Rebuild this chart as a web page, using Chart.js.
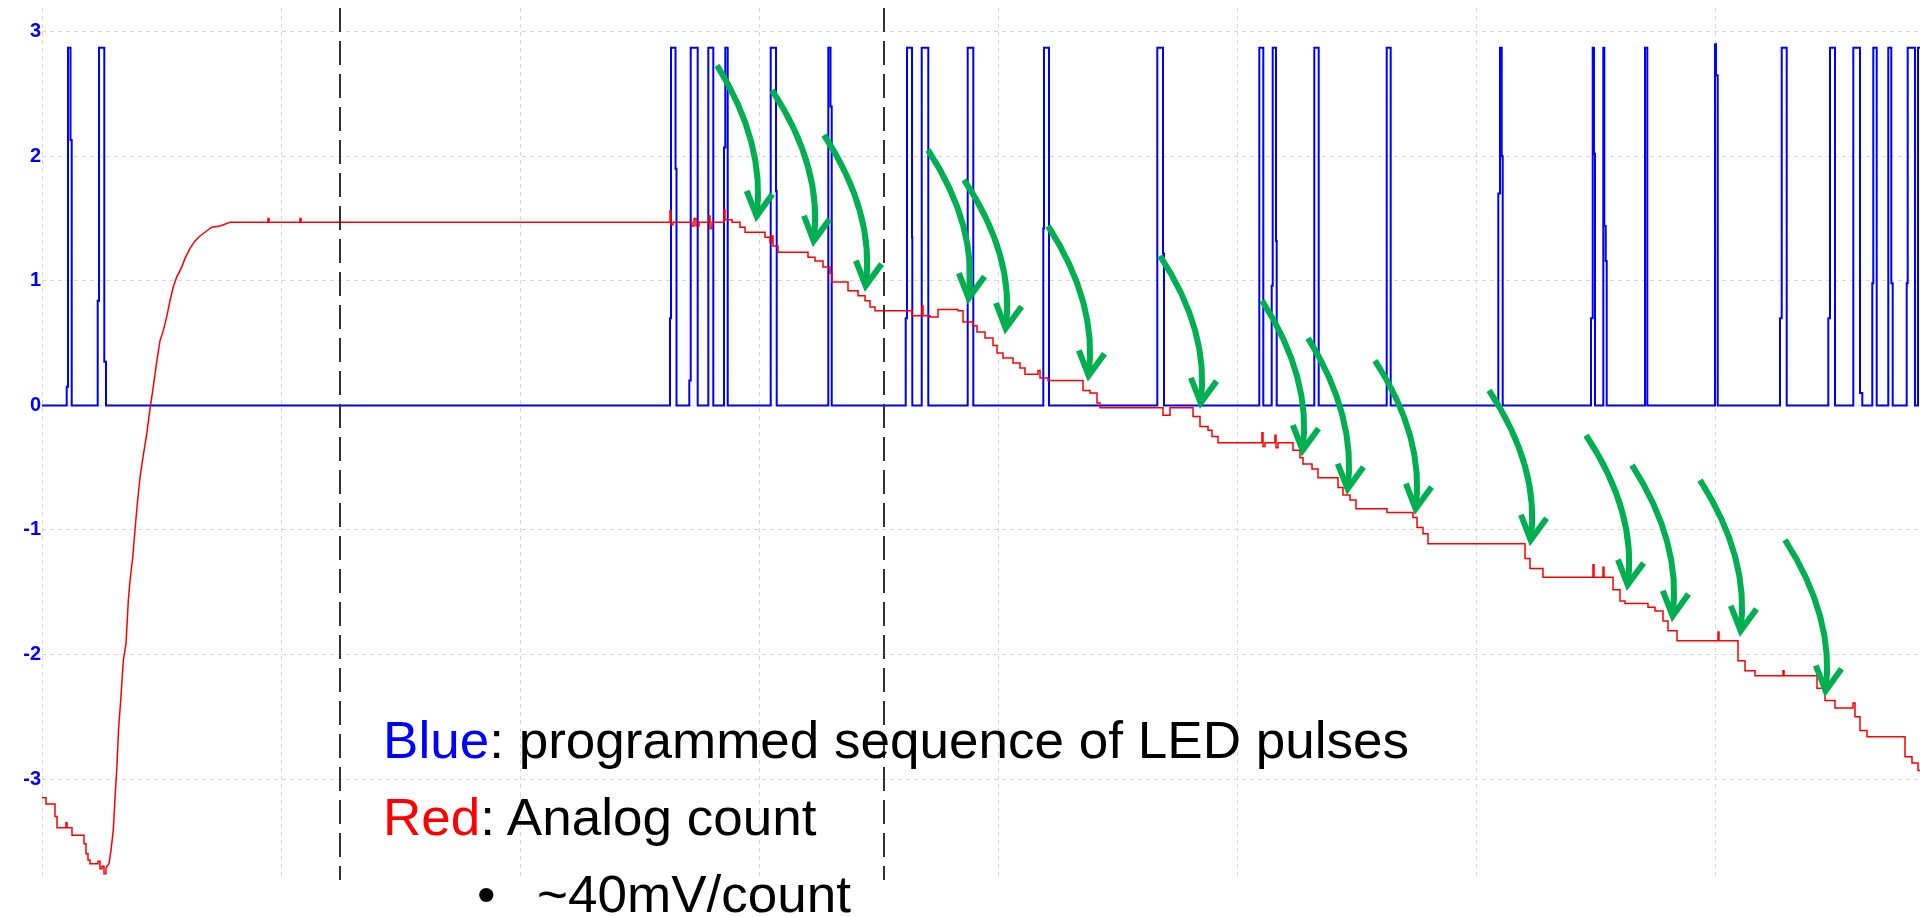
<!DOCTYPE html>
<html>
<head>
<meta charset="utf-8">
<title>LED pulses vs analog count</title>
<script src="https://cdn.jsdelivr.net/npm/chart.js"></script>
<style>
  html, body { margin: 0; padding: 0; background: #fff; overflow: hidden; }
  #wrap { position: relative; width: 1920px; height: 917px; }
  #scope-canvas { display: block; }
  .note {
    position: absolute;
    font-family: 'Liberation Sans', Arial, sans-serif;
    font-size: 52px;
    line-height: 40px;
    color: #000;
    white-space: nowrap;
    transform: scaleX(1.02);
    transform-origin: 0 0;
  }
</style>
</head>
<body>
<div id="wrap">
  <canvas id="scope-canvas"></canvas>
  <div class="note" style="left:383px; top:720px"><span style="color:#0000ff">Blue</span>: programmed sequence of LED pulses</div>
  <div class="note" style="left:383px; top:797px"><span style="color:#ff0000">Red</span>: Analog count</div>
  <div class="note" style="left:477px; top:874px">•</div>
  <div class="note" style="left:537px; top:874px">~40mV/count</div>
</div>
<script>
// time axis is in samples, volts on y
const timeMax = 1878;
const voltMin = -3.81;
const voltMax = 3.19;
const voltTicks = [-3, -2, -1, 0, 1, 2, 3];
const gridTimes = [0, 239, 478, 717, 956, 1195, 1434, 1673];
const cursorTimes = [298, 842];

// blue: LED drive (value changes at each time)
const bluePoints = [
  [0, 0],
  [24.7, 0.15], [26, 2.87], [28.5, 2.13], [29.7, 0],
  [55.7, 0.84], [57, 2.87], [62.3, 0.35], [64, 0],
  [628, 0.7], [629, 2.87], [633.5, 1.9], [634.5, 0],
  [647.3, 0.2], [648.7, 2.87], [655.7, 0],
  [666.3, 2.87], [671.3, 0],
  [682, 2.07], [683.3, 2.87], [685.7, 0],
  [728.7, 2.87], [734, 1.72], [734.7, 0],
  [786.3, 2.87], [788.5, 2.4], [789.7, 0],
  [863.7, 0.7], [865, 2.87], [870, 1.35], [870.3, 0],
  [879.7, 2.87], [886.3, 0],
  [925.7, 2.87], [931.3, 0],
  [1001.3, 1.42], [1002, 2.87], [1007, 0],
  [1115.3, 2.87], [1121, 1.22], [1122, 0],
  [1217.3, 2.87], [1221.3, 0],
  [1229.7, 0.96], [1230.7, 2.87], [1234, 1.32], [1234.7, 0],
  [1272.3, 2.87], [1276.7, 0],
  [1344.7, 2.87], [1348.7, 0],
  [1456.3, 1.7], [1458, 2.87], [1459.7, 2.0], [1460.7, 0],
  [1549, 0.7], [1550.7, 2.87], [1552, 2.02], [1553, 0],
  [1561.3, 2.87], [1562.3, 1.44], [1563.7, 1.16], [1564.7, 0],
  [1603, 2.87], [1605.3, 0],
  [1673, 2.9], [1674, 2.65], [1675.7, 0],
  [1738, 0.7], [1739.7, 2.87], [1744.7, 0],
  [1786.3, 0.7], [1788, 2.87], [1793, 0],
  [1811.3, 2.87], [1818, 0.1], [1820.3, 0],
  [1830.3, 0.98], [1831.3, 2.87], [1834.7, 0],
  [1846.3, 2.87], [1849.3, 0.98], [1850.7, 0],
  [1864.7, 0.98], [1865.7, 2.87], [1873, 0],
  [1876, 2.87], [1878, 2.87]
];

// red: analog count, settling before the first reset
const redSettlePoints = [
  [0, -3.15], [4, -3.2], [13, -3.3], [15, -3.39], [24, -3.35], [25, -3.39],
  [30, -3.45], [42, -3.52], [44, -3.6], [46, -3.65], [48, -3.68], [56, -3.66],
  [58, -3.72], [60, -3.7], [62, -3.76], [64, -3.71]
];

// red: the fast charge-up after reset
const redRisePoints = [
  [64, -3.71], [67, -3.68], [69, -3.57], [71.3, -3.41], [73, -3.15],
  [74.7, -2.93], [76.7, -2.58], [78.7, -2.37], [81.3, -2.05], [84, -1.91],
  [86.3, -1.57], [88, -1.41], [90.7, -1.22], [93, -1.0], [95.3, -0.79],
  [98, -0.58], [101.3, -0.4], [104.7, -0.23], [108, -0.03], [111.3, 0.15],
  [114.7, 0.35], [118, 0.52], [121.3, 0.6], [124.7, 0.71], [128, 0.84],
  [131.3, 0.95], [134.7, 1.03], [139.7, 1.11], [143, 1.18], [148, 1.26],
  [153, 1.32], [158, 1.36], [163, 1.39], [169.7, 1.43], [178, 1.44], [188, 1.47]
];

// red: counting down, one step per LED pulse
const redStepPoints = [
  [188, 1.47], [226, 1.5], [227, 1.47], [258, 1.5], [259, 1.47],
  [628, 1.56], [629, 1.45], [631, 1.47], [650, 1.44], [652, 1.5], [654, 1.44],
  [657, 1.47], [667, 1.52], [668, 1.42], [670, 1.47], [682, 1.57], [683, 1.49],
  [690, 1.47], [698, 1.43], [703, 1.39], [723, 1.35], [728, 1.31], [730, 1.36],
  [731, 1.28], [736, 1.23], [766, 1.19], [773, 1.16], [781, 1.11], [788, 1.06],
  [790, 0.99], [806, 0.92], [816, 0.88], [823, 0.84], [828, 0.79], [833, 0.76],
  [870, 0.72], [880, 0.8], [881, 0.72], [888, 0.71], [896, 0.77], [916, 0.76],
  [921, 0.67], [931, 0.64], [935, 0.59], [943, 0.54], [951, 0.48], [955, 0.42],
  [961, 0.38], [971, 0.34], [978, 0.3], [983, 0.25], [996, 0.28], [998, 0.22],
  [1006, 0.2], [1041, 0.12], [1048, 0.1], [1055, 0.02], [1058, -0.02],
  [1121, -0.08], [1128, -0.02], [1151, -0.09], [1158, -0.17], [1166, -0.2],
  [1170, -0.25], [1176, -0.3], [1220, -0.22], [1221, -0.33], [1223, -0.3],
  [1233, -0.24], [1234, -0.34], [1236, -0.3], [1251, -0.36], [1258, -0.42],
  [1261, -0.47], [1270, -0.51], [1276, -0.58], [1296, -0.66], [1301, -0.72],
  [1308, -0.76], [1314, -0.83], [1345, -0.86], [1371, -0.9], [1375, -0.98],
  [1381, -1.03], [1386, -1.11], [1483, -1.23], [1488, -1.31], [1501, -1.38],
  [1551, -1.28], [1552, -1.38], [1561, -1.3], [1562, -1.38], [1571, -1.48],
  [1578, -1.57], [1583, -1.59], [1606, -1.62], [1613, -1.65], [1621, -1.73],
  [1626, -1.81], [1635, -1.89], [1676, -1.82], [1677, -1.89], [1696, -2.05],
  [1703, -2.13], [1713, -2.17], [1741, -2.13], [1742, -2.17], [1775, -2.27],
  [1783, -2.37], [1793, -2.43], [1811, -2.39], [1813, -2.5], [1818, -2.61],
  [1825, -2.66], [1863, -2.82], [1870, -2.87], [1876, -2.93], [1878, -2.93]
];

// green arrows: tail and tip, in [time, volts]
const arrowTails = [
  [675, 2.73], [730, 2.53], [782, 2.17], [886, 2.05], [922, 1.81],
  [1006, 1.44], [1118, 1.2], [1220, 0.84], [1266, 0.54], [1333, 0.36],
  [1447, 0.12], [1544, -0.24], [1590, -0.48], [1658, -0.6], [1743, -1.08]
];
const arrowTips = [
  [714, 1.48], [771, 1.28], [823, 0.92], [926, 0.82], [963, 0.58],
  [1046, 0.2], [1158, -0.02], [1260, -0.4], [1305, -0.71], [1373, -0.87],
  [1488, -1.12], [1585, -1.48], [1630, -1.73], [1698, -1.85], [1783, -2.33]
];

const toXY = pts => pts.map(([t, v]) => ({ x: t, y: v }));

const greenArrows = {
  id: 'greenArrows',
  afterDatasetsDraw(chart) {
    const { ctx, scales: { x, y } } = chart;
    ctx.save();
    ctx.strokeStyle = '#00b050';
    ctx.lineWidth = 6;
    ctx.lineCap = 'butt';
    ctx.lineJoin = 'miter';
    arrowTails.forEach((tail, i) => {
      const tip = arrowTips[i];
      const x0 = x.getPixelForValue(tail[0]);
      const y0 = y.getPixelForValue(tail[1]);
      let x1 = x.getPixelForValue(tip[0]);
      let y1 = y.getPixelForValue(tip[1]);
      const cx = x1 + 0.25 * (x1 - x0);
      const cy = y0 + 0.5 * (y1 - y0);
      const ang = Math.atan2(y1 - cy, x1 - cx);
      // pull the vertex back so the mitred point lands on the tip
      x1 -= 5 * Math.cos(ang);
      y1 -= 5 * Math.sin(ang);

      ctx.beginPath();
      ctx.moveTo(x0, y0);
      ctx.quadraticCurveTo(cx, cy, x1, y1);
      ctx.stroke();

      const len = 27, spread = 0.5;
      ctx.beginPath();
      ctx.moveTo(x1 - len * Math.cos(ang - spread), y1 - len * Math.sin(ang - spread));
      ctx.lineTo(x1, y1);
      ctx.lineTo(x1 - len * Math.cos(ang + spread), y1 - len * Math.sin(ang + spread));
      ctx.stroke();
    });
    ctx.restore();
  }
};

const cursorSets = cursorTimes.map(t => ({
  label: 'cursor',
  data: [{ x: t, y: voltMax }, { x: t, y: voltMin }],
  borderColor: '#333333',
  borderWidth: 2,
  borderDash: [24, 9],
  pointRadius: 0
}));

const redLine = (label, pts, stepped) => ({
  label,
  data: toXY(pts),
  borderColor: '#ff0000',
  borderWidth: 1.5,
  stepped,
  pointRadius: 0
});

new Chart(document.getElementById('scope-canvas'), {
  type: 'line',
  data: {
    datasets: [
      ...cursorSets,
      redLine('Analog count (settle)', redSettlePoints, true),
      redLine('Analog count (rise)', redRisePoints, false),
      redLine('Analog count', redStepPoints, true),
      {
        label: 'LED pulses',
        data: toXY(bluePoints),
        borderColor: '#0000ff',
        borderWidth: 2,
        stepped: true,
        pointRadius: 0
      }
    ]
  },
  options: {
    responsive: true,
    maintainAspectRatio: false,
    animation: false,
    layout: { padding: { top: 8, bottom: 37, left: 0, right: 0 } },
    plugins: {
      legend: { display: false },
      tooltip: { enabled: false }
    },
    scales: {
      x: {
        type: 'linear',
        min: 0,
        max: timeMax,
        afterBuildTicks: s => { s.ticks = gridTimes.map(v => ({ value: v })); },
        afterFit: s => { s.height = 0; s.paddingLeft = 0; s.paddingRight = 0; },
        ticks: { display: false },
        border: { display: false, dash: [4, 4] },
        grid: { color: '#d9d9d9', lineWidth: 1, drawTicks: false }
      },
      y: {
        min: voltMin,
        max: voltMax,
        afterBuildTicks: s => { s.ticks = voltTicks.map(v => ({ value: v })); },
        afterFit: s => { s.width = 42; s.paddingTop = 0; s.paddingBottom = 0; },
        border: { display: false, dash: [4, 4] },
        grid: { color: '#d9d9d9', lineWidth: 1, drawTicks: false },
        ticks: {
          color: '#0000ff',
          padding: 1,
          font: { family: 'Liberation Sans', size: 20, weight: 'bold' },
          callback: v => String(v)
        }
      }
    }
  },
  plugins: [greenArrows]
});
</script>
</body>
</html>
